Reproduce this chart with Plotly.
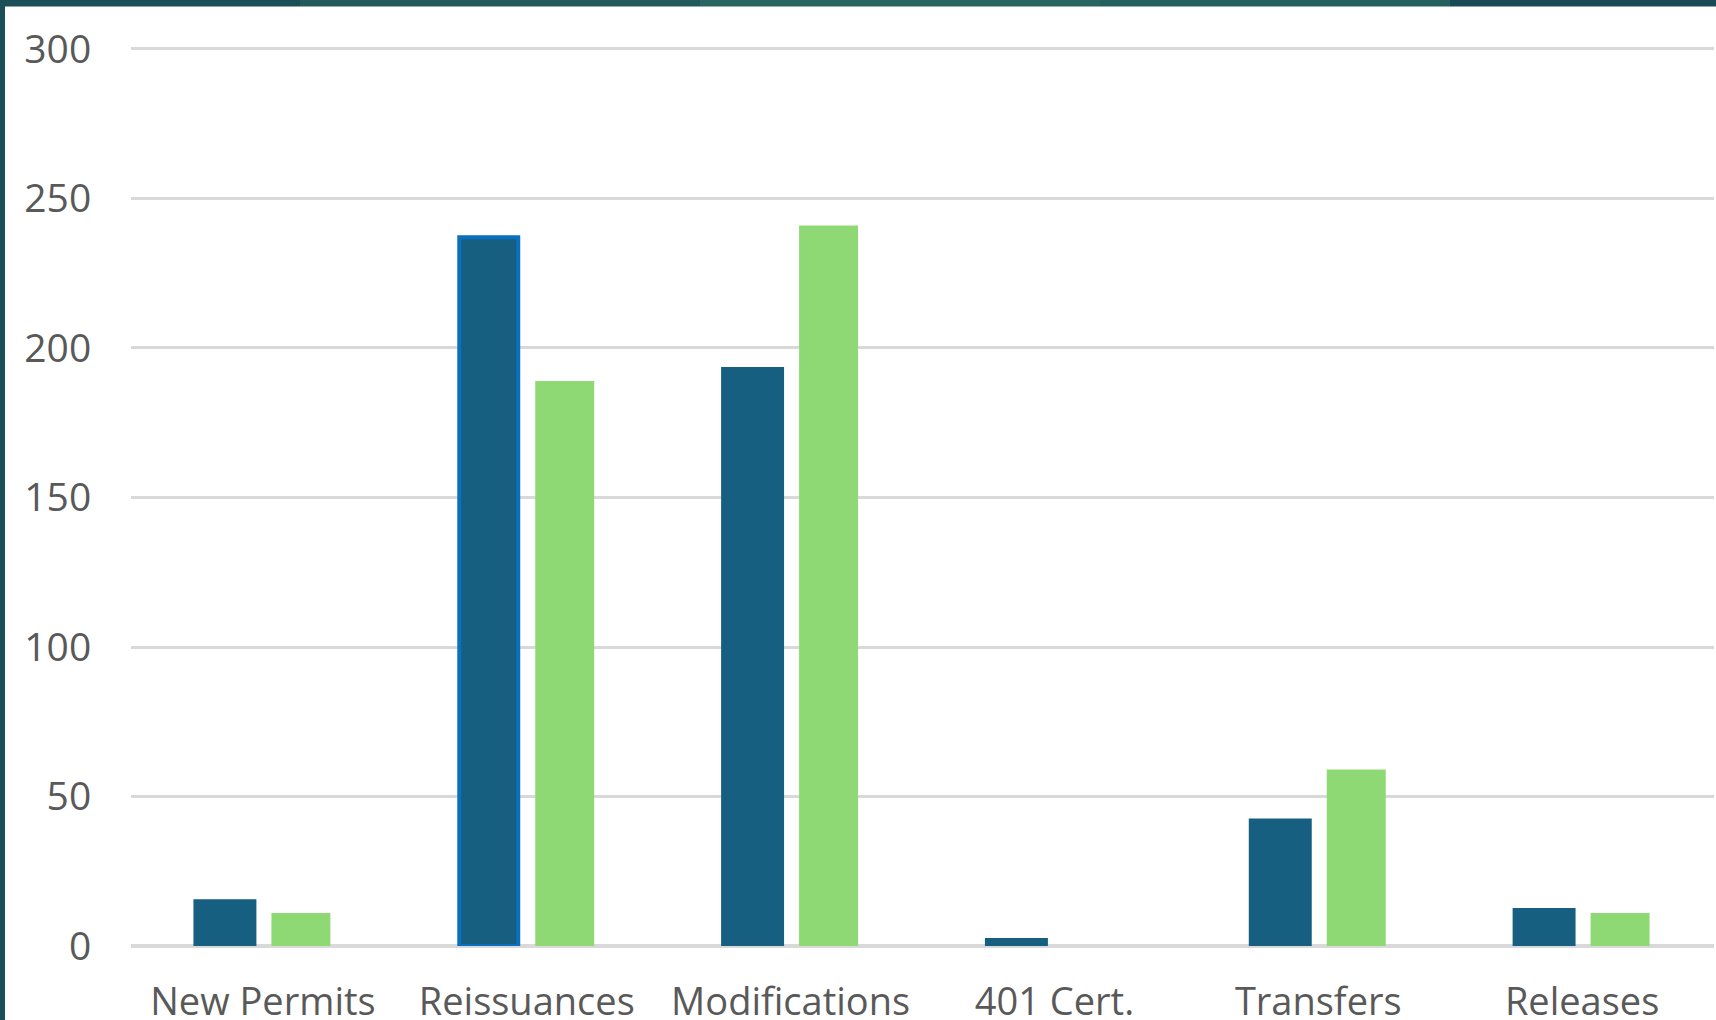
import plotly.graph_objects as go

categories = ["New Permits", "Reissuances", "Modifications", "401 Cert.", "Transfers", "Releases"]
series_a = [15, 237, 193, 2, 42, 12]
series_b = [11, 189, 241, 0, 59, 11]
y_ticks = [0, 50, 100, 150, 200, 250, 300]

DARK = "#175F80"
GREEN = "#8FD974"
SEL = "#0B6FBF"
W, H = 1716, 1020
L, R, T, B = 131, 2, 45.5, 74

dark_lines = [SEL if c == "Reissuances" else DARK for c in categories]

fig = go.Figure()
fig.add_trace(go.Bar(x=categories, y=series_a, name="A",
                     marker=dict(color=DARK, line=dict(color=dark_lines, width=4))))
fig.add_trace(go.Bar(x=categories, y=series_b, name="B",
                     marker=dict(color=GREEN, line=dict(width=0))))

font = dict(family="Open Sans, Noto Sans, sans-serif", size=39, color="#595959")
xfont = dict(family="Open Sans, Noto Sans, sans-serif", size=38, color="#595959")

fig.update_layout(
    width=W, height=H,
    margin=dict(l=L, r=R, t=T, b=B, pad=0, autoexpand=False),
    paper_bgcolor="white", plot_bgcolor="white",
    barmode="group", bargap=0.424, bargroupgap=0.224,
    showlegend=False,
    font=font,
)
fig.update_yaxes(range=[0, 301], tickvals=y_ticks, showgrid=True, gridcolor="#D9D9D9",
                 gridwidth=3, zeroline=True, zerolinecolor="#D9D9D9", zerolinewidth=4,
                 ticks="outside", ticklen=31, tickcolor="rgba(0,0,0,0)", showline=False,
                 tickfont=font, automargin=False)
fig.update_xaxes(showgrid=False, showline=False, ticks="outside", ticklen=22,
                 tickcolor="rgba(0,0,0,0)", tickfont=xfont, automargin=False)

# teal frame edges (top and left)
pw = W - L - R
ph = H - T - B
def px2x(p):
    return (p - L) / pw
def py2y(p):
    return (H - B - p) / ph

segs = [(0, 300, "#1B4E57"), (300, 700, "#225A5B"), (700, 1100, "#2A6661"),
        (1100, 1450, "#24605E"), (1450, W, "#1A4A56")]
for x0, x1, c in segs:
    fig.add_shape(type="rect", xref="paper", yref="paper",
                  x0=px2x(x0), x1=px2x(x1), y0=py2y(6), y1=py2y(-2),
                  fillcolor=c, line=dict(width=0), layer="above")
fig.add_shape(type="rect", xref="paper", yref="paper",
              x0=px2x(-2), x1=px2x(5), y0=py2y(H + 2), y1=py2y(0),
              fillcolor="#1A4F5A", line=dict(width=0), layer="above")

fig.write_html("out.html", config={"displayModeBar": False},
               post_script="document.body.style.margin='0';document.body.style.overflow='hidden';")
